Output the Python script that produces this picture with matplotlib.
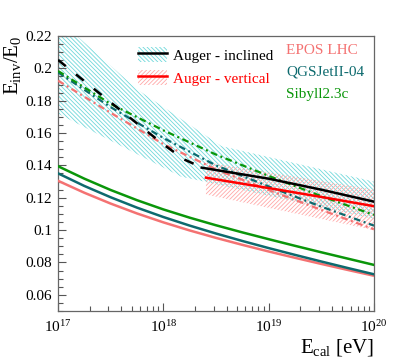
import numpy as np
import matplotlib; matplotlib.use('Agg')
import matplotlib.pyplot as plt
from matplotlib.patches import Patch
from matplotlib.lines import Line2D
from matplotlib.ticker import FixedLocator, FuncFormatter, LogLocator

plt.rcParams['font.family'] = ['Liberation Serif', 'DejaVu Serif']
plt.rcParams['mathtext.fontset'] = 'custom'
plt.rcParams['mathtext.rm'] = 'Liberation Serif'
plt.rcParams['mathtext.it'] = 'Liberation Serif:italic'
plt.rcParams['hatch.linewidth'] = 0.6

# ---- data (log10 of E_cal / eV, Einv/E0) ----
# simulations, detector-level (solid)
lgE_sim = [17.0, 17.25, 17.5, 17.75, 18.0, 18.25, 18.5, 18.75, 19.0, 19.25, 19.5, 19.75, 20.0]
epos_sim = [0.1305, 0.1231, 0.1164, 0.1103, 0.1048, 0.0998, 0.0952, 0.0909, 0.0868,
            0.0829, 0.0791, 0.0754, 0.0718]
qgs_sim = [0.1351, 0.1273, 0.1203, 0.1139, 0.1081, 0.1028, 0.0979, 0.0933, 0.0889,
           0.0847, 0.0806, 0.0766, 0.0727]
sib_sim = [0.1395, 0.1318, 0.1248, 0.1185, 0.1128, 0.1077, 0.1030, 0.0986, 0.0944,
           0.0903, 0.0863, 0.0824, 0.0785]

# model expectations (dash-dot)
lgE_dd = [17.0, 17.5, 18.0, 18.5, 19.0, 19.5, 20.0]
epos_dd = [0.1924, 0.1725, 0.1532, 0.1375, 0.1248, 0.1125, 0.1005]
qgs_dd = [0.1975, 0.176, 0.157, 0.140, 0.127, 0.1145, 0.1028]
sib_dd = [0.1984, 0.178, 0.1617, 0.1467, 0.1335, 0.121, 0.1094]

# Auger inclined: extrapolation (dashed) and measured range (solid)
lgE_incl_ext = [17.0, 17.5, 18.0, 18.2, 18.4]
incl_ext = [0.2052, 0.179, 0.153, 0.1436, 0.1378]
lgE_incl = [18.365, 19.0, 19.5, 20.0]
incl = [0.1386, 0.1318, 0.125, 0.1176]
# inclined band
lgE_incl_up = [17.0, 17.18, 17.76, 18.55, 20.0]
incl_up = [0.2304, 0.22, 0.1866, 0.152, 0.130]
lgE_incl_lo = [17.0, 18.17, 18.39, 20.0]
incl_lo = [0.172, 0.133, 0.130, 0.107]

# Auger vertical
lgE_vert = [18.405, 19.0, 19.5, 20.0]
vert = [0.1324, 0.126, 0.1205, 0.1148]
lgE_vert_band = [18.405, 20.0]
vert_up = [0.142, 0.125]
vert_lo = [0.122, 0.100]

yticks = [0.06, 0.08, 0.10, 0.12, 0.14, 0.16, 0.18, 0.20, 0.22]

c_epos = '#f47272'
c_qgs = '#0d6a6e'
c_sib = '#0a960a'
c_red = '#ff0000'
c_cyan = '#6fd8da'
c_pink = '#ffa8a8'
h_cyan = '\\' * 8
h_pink = '/' * 8

def E(lg):
    return 10.0 ** np.asarray(lg)

fig = plt.figure(figsize=(4.15, 3.61), dpi=100)
ax = fig.add_axes([0.1398, 0.1385, 0.7612, 0.7618])

# bands
bx = np.concatenate([E(lgE_incl_up), E(lgE_incl_lo)[::-1]])
by = np.concatenate([incl_up, incl_lo[::-1]])
ax.fill(bx, by, facecolor='none', edgecolor=c_cyan, hatch=h_cyan, lw=0, zorder=1)
bx = np.concatenate([E(lgE_vert_band), E(lgE_vert_band)[::-1]])
by = np.concatenate([vert_up, vert_lo[::-1]])
ax.fill(bx, by, facecolor='none', edgecolor=c_pink, hatch=h_pink, lw=0, zorder=1)

# simulations
for yy, c in [(epos_sim, c_epos), (qgs_sim, c_qgs), (sib_sim, c_sib)]:
    ax.plot(E(lgE_sim), yy, color=c, lw=1.8, zorder=3)
for yy, c in [(epos_dd, c_epos), (qgs_dd, c_qgs), (sib_dd, c_sib)]:
    ax.plot(E(lgE_dd), yy, color=c, lw=1.6, dashes=(3.0, 1.6, 0.9, 1.6), zorder=3)

# Auger
ax.plot(E(lgE_incl_ext), incl_ext, color='black', lw=1.8, dashes=(4, 5.2), zorder=4)
ax.plot(E(lgE_incl), incl, color='black', lw=1.8, zorder=4)
ax.plot(E(lgE_vert), vert, color=c_red, lw=1.8, zorder=4)

ax.set_xscale('log')
ax.set_xlim(1e17, 1e20)
ax.set_ylim(0.05, 0.22)

ax.yaxis.set_major_locator(FixedLocator(yticks))
ax.yaxis.set_minor_locator(FixedLocator(np.arange(0.05, 0.2201, 0.005)))
ax.yaxis.set_major_formatter(FuncFormatter(lambda v, p: f"{v:g}"))
ax.xaxis.set_major_locator(LogLocator(base=10, numticks=10))
ax.xaxis.set_minor_locator(LogLocator(base=10, subs=np.arange(2, 10), numticks=20))

ax.tick_params(which='both', direction='in', top=False, right=False,
               color='#555555', width=0.8, labelsize=11)
ax.tick_params(axis='x', pad=6)
ax.tick_params(axis='y', pad=4)
ax.tick_params(which='major', length=6)
ax.tick_params(which='minor', length=3.5)
for s in ax.spines.values():
    s.set_color('#666666'); s.set_linewidth(0.9)

ax.set_xlabel(r'E$_{\rm cal}$ [eV]', fontsize=15, loc='right', labelpad=1)
ax.set_ylabel(r'E$_{\rm inv}$/E$_0$', fontsize=15, loc='top', labelpad=2)

# legend
h1 = (Patch(facecolor='white', edgecolor=c_cyan, hatch=h_cyan, lw=0),
      Line2D([], [], color='black', lw=1.8))
h2 = (Patch(facecolor='white', edgecolor=c_pink, hatch=h_pink, lw=0),
      Line2D([], [], color=c_red, lw=1.8))
leg = ax.legend([h1, h2], ['Auger - inclined', 'Auger - vertical'],
                loc='upper left', bbox_to_anchor=(0.22, 1.0), frameon=False,
                fontsize=11, handlelength=1.9, handleheight=1.2,
                handletextpad=0.4, labelspacing=0.45, borderaxespad=0.3)
leg.get_texts()[1].set_color(c_red)

for t, c, yy in [('EPOS LHC', c_epos, 0.947), ('QGSJetII-04', c_qgs, 0.868),
                 ('Sibyll2.3c', c_sib, 0.788)]:
    ax.text(0.722, yy, t, color=c, fontsize=11, transform=ax.transAxes,
            ha='left', va='center')

fig.savefig('out.png', dpi=100)
